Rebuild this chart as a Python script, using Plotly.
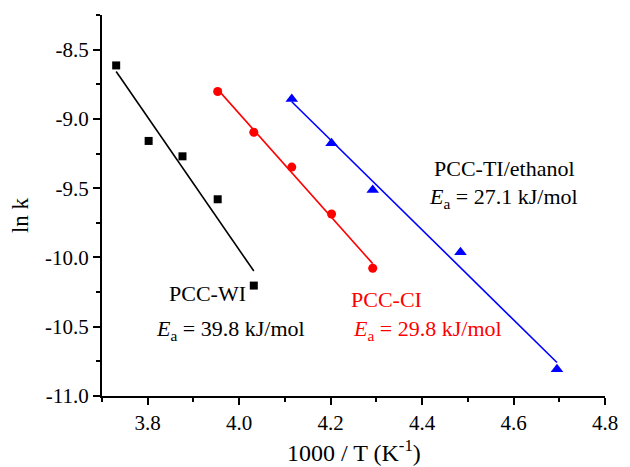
import numpy as np
import plotly.graph_objects as go

# Data
wi_x = [3.731, 3.802, 3.876, 3.953, 4.032]
wi_y = [-8.614, -9.159, -9.270, -9.580, -10.203]
ci_x = [3.953, 4.032, 4.115, 4.202, 4.292]
ci_y = [-8.802, -9.096, -9.348, -9.686, -10.078]
ti_x = [4.115, 4.202, 4.292, 4.484, 4.695]
ti_y = [-8.857, -9.176, -9.514, -9.962, -10.807]

x_tickvals = [3.8, 4.0, 4.2, 4.4, 4.6, 4.8]
x_ticktext = ["3.8", "4.0", "4.2", "4.4", "4.6", "4.8"]
y_tickvals = [-8.5, -9.0, -9.5, -10.0, -10.5, -11.0]
y_ticktext = ["-8.5", "-9.0", "-9.5", "-10.0", "-10.5", "-11.0"]

FONT = "Liberation Serif, Times New Roman, serif"

series = [
    (wi_x, wi_y, "black", "square", 8),
    (ci_x, ci_y, "red", "circle", 9),
    (ti_x, ti_y, "blue", "triangle-up", 11),
]

fig = go.Figure()
for xs, ys, col, sym, sz in series:
    xa = np.array(xs)
    ya = np.array(ys)
    k, b = np.polyfit(xa, ya, 1)
    fx = np.array([xa.min(), xa.max()])
    fig.add_trace(go.Scatter(x=fx, y=k * fx + b, mode="lines",
                             line=dict(color=col, width=1.6),
                             showlegend=False, hoverinfo="skip"))
    fig.add_trace(go.Scatter(x=xs, y=ys, mode="markers",
                             marker=dict(color=col, symbol=sym, size=sz,
                                         line=dict(width=0)),
                             showlegend=False))

ann = [
    ("PCC-WI", 3.930, -10.26, "black"),
    ("<i>E</i><sub>a</sub> = 39.8 kJ/mol", 3.981, -10.52, "black"),
    ("PCC-CI", 4.322, -10.30, "red"),
    ("<i>E</i><sub>a</sub> = 29.8 kJ/mol", 4.411, -10.52, "red"),
    ("PCC-TI/ethanol", 4.580, -9.36, "black"),
    ("<i>E</i><sub>a</sub> = 27.1 kJ/mol", 4.578, -9.57, "black"),
]
for t, x, y, c in ann:
    fig.add_annotation(x=x, y=y, text=t, showarrow=False,
                       font=dict(family=FONT, size=22, color=c),
                       xanchor="center", yanchor="middle")

fig.add_annotation(xref="paper", yref="paper", x=0.5, y=-0.145,
                   text="1000 / T (K<sup>-1</sup>)", showarrow=False,
                   font=dict(family=FONT, size=24, color="black"),
                   xanchor="center", yanchor="middle")
fig.add_annotation(xref="paper", yref="paper", x=-0.163, y=0.475,
                   text="ln k", showarrow=False, textangle=-90,
                   font=dict(family=FONT, size=23, color="black"),
                   xanchor="center", yanchor="middle")

axis_common = dict(showline=True, linecolor="black", linewidth=2,
                   ticks="outside", ticklen=7, tickwidth=1.5, tickcolor="black",
                   showgrid=False, zeroline=False,
                   tickfont=dict(family=FONT, size=21, color="black"))

fig.update_xaxes(range=[3.7, 4.8], tickvals=x_tickvals, ticktext=x_ticktext,
                 minor=dict(dtick=0.1, tick0=3.7, ticks="outside", ticklen=4,
                            tickwidth=1.5, tickcolor="black"),
                 **axis_common)
fig.update_yaxes(range=[-11.0, -8.25], tickvals=y_tickvals, ticktext=y_ticktext,
                 minor=dict(dtick=0.25, tick0=-11.0, ticks="outside", ticklen=4,
                            tickwidth=1.5, tickcolor="black"),
                 **axis_common)

fig.update_layout(width=630, height=467,
                  margin=dict(l=102, r=15, t=15, b=71),
                  plot_bgcolor="white", paper_bgcolor="white",
                  font=dict(family=FONT))

fig.write_html("out.html")
